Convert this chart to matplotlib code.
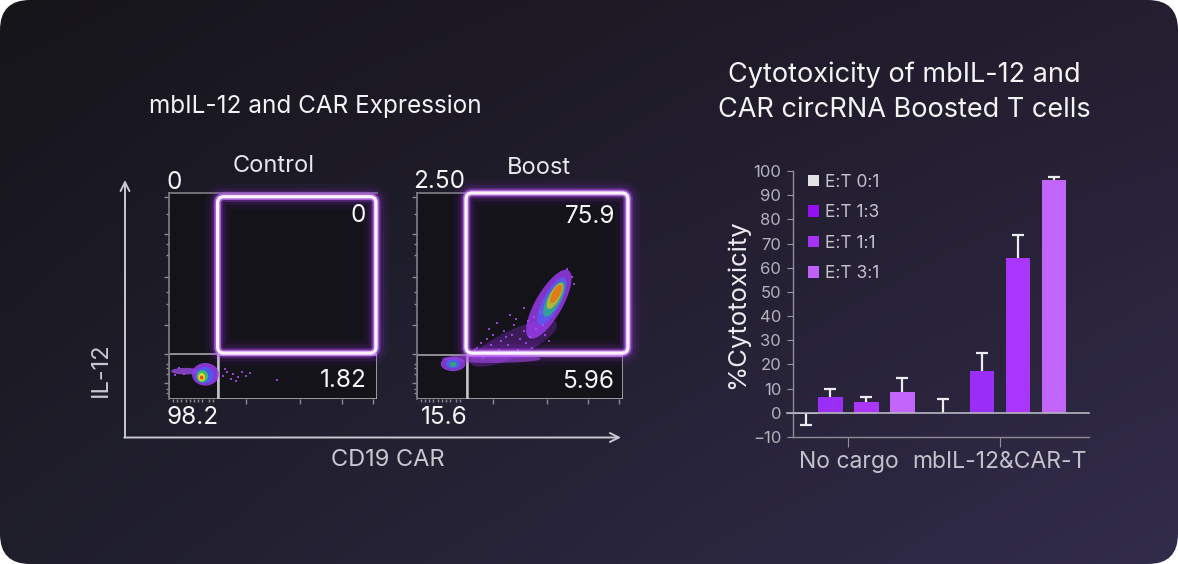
# flow cytometry gates + cytotoxicity bars, dark card layout
import numpy as np
import matplotlib
matplotlib.use('Agg')
from matplotlib import pyplot as plt
from matplotlib import colors as mcolors
from matplotlib.patches import FancyBboxPatch, Ellipse, Rectangle, Patch

plt.rcParams['font.family'] = ['Inter', 'DejaVu Sans']

# --- data ---
groups = ['No cargo', 'mbIL-12&CAR-T']
ratios = ['E:T 0:1', 'E:T 1:3', 'E:T 1:1', 'E:T 3:1']
no_cargo = [-0.3, 6.6, 4.4, 8.6]
no_cargo_err = [4.8, 3.1, 2.2, 5.8]
boosted = [0.0, 17.4, 64.0, 96.1]
boosted_err = [5.7, 7.2, 9.7, 1.6]

flow_titles = ['Control', 'Boost']
# quadrant percentages: upper-left, upper-right, lower-right, lower-left
ctrl_pct = ['0', '0', '1.82', '98.2']
boost_pct = ['2.50', '75.9', '5.96', '15.6']

# gate thresholds (scaled 0-100 channel units)
ctrl_gate = [23.4, 22.3, 99.5, 98.2]     # x0, y0, x1, y1
boost_gate = [23.8, 22.3, 102.4, 100.0]
ctrl_quad = [23.6, 21.8]
boost_quad = [24.3, 21.4]

# density populations: x, y, width, height, angle, colour, alpha
ctrl_pops = [
    (8.0, 13.5, 14, 3.2, 0, '#a050f0', 0.75),
    (17.5, 12.0, 13, 11, 0, '#9b3cf0', 0.85),
    (17.0, 11.5, 9, 8, 0, '#4a5cf5', 0.9),
    (16.0, 11.0, 5.5, 6, 0, '#3cc060', 0.95),
    (15.7, 10.6, 3.2, 4.0, 0, '#e8d82a', 1.0),
    (15.7, 10.4, 1.6, 2.0, 0, '#e84a1a', 1.0),
]
ctrl_dots_x = [3, 5, 7, 26, 28, 30, 31, 33, 35, 37, 39, 52, 27, 32]
ctrl_dots_y = [11.5, 15, 12, 11, 13, 9.5, 12, 10.5, 13, 11, 12.5, 9, 14.5, 8.5]

boost_pops = [
    (47.0, 27.0, 46, 13, 25, '#9a30f0', 0.3),
    (36.0, 19.5, 48, 4.0, 0, '#b050f5', 0.55),
    (17.5, 17.0, 12, 7, 0, '#9a40f0', 0.8),
    (17.5, 17.0, 7, 4.5, 0, '#4a60f0', 0.9),
    (17.5, 16.8, 3.5, 2.5, 0, '#30a870', 0.9),
    (64.0, 46.0, 38, 13, 60, '#a03cf5', 0.8),
    (65.5, 47.5, 26, 8.5, 62, '#5a5af0', 0.85),
    (66.5, 48.5, 19, 6.5, 62, '#30a890', 0.9),
    (67.0, 50.0, 14, 5.0, 62, '#b8b830', 0.95),
    (67.5, 51.0, 10, 3.6, 62, '#e07a18', 1.0),
]
boost_dots_x = [28, 30, 31, 33, 34, 36, 37, 38, 40, 41, 42, 44, 45, 46, 47, 49, 50, 51, 52, 53,
                54, 55, 56, 57, 58, 60, 61, 35, 39, 43, 48, 26, 29, 32, 62, 64, 73, 75, 76, 52, 45]
boost_dots_y = [24, 21, 27, 23, 29, 26, 31, 22, 24, 28, 33, 26, 21, 31, 36, 24, 29, 22, 33, 27,
                38, 30, 25, 40, 34, 42, 36, 34, 37, 30, 39, 22, 25, 20, 31, 28, 63, 59, 56, 44, 41]

bar_colors = ['#e2e2e4', '#9a2ef6', '#aa36fb', '#c266fb']
legend_colors = ['#e2e2e4', '#9410f0', '#a434f5', '#c060f8']

# --- figure / background card ---
W, H = 1178, 564
fig = plt.figure(figsize=(W / 100, H / 100), dpi=100, facecolor='white')
bg = fig.add_axes([0, 0, 1, 1])
bg.axis('off')

tl, tr, bl, br = [np.array(mcolors.to_rgb(c)) for c in ('#16151a', '#241e30', '#1f1e2b', '#322c4b')]
u = np.linspace(0, 1, 240)[None, :, None]
v = np.linspace(0, 1, 120)[:, None, None]
grad = (1 - v) * ((1 - u) * tl + u * tr) + v * ((1 - u) * bl + u * br)
im = bg.imshow(grad, extent=(0, W, H, 0), aspect='auto', interpolation='bilinear', zorder=0)
bg.set_xlim(0, W)
bg.set_ylim(H, 0)
card = FancyBboxPatch((0, 0), W, H, boxstyle='round,pad=0,rounding_size=30',
                      transform=bg.transData, facecolor='none', edgecolor='none')
bg.add_patch(card)
im.set_clip_path(card)

txt = '#f4f4f6'
dim = '#c8c8d0'

bg.text(315, 106, 'mbIL-12 and CAR Expression', color=txt, fontsize=17.5, ha='center', va='center')
bg.text(904, 75, 'Cytotoxicity of mbIL-12 and', color=txt, fontsize=19.5, ha='center', va='center')
bg.text(904, 110, 'CAR circRNA Boosted T cells', color=txt, fontsize=19.5, ha='center', va='center')

arrow = dict(arrowstyle='->', color=dim, lw=1.4, mutation_scale=16, shrinkA=0, shrinkB=0)
bg.annotate('', xy=(125, 180), xytext=(125, 437.5), arrowprops=arrow)
bg.annotate('', xy=(621, 437.5), xytext=(124.3, 437.5), arrowprops=arrow)
bg.text(101, 370, 'IL-12', color=dim, fontsize=17, rotation=90, ha='center', va='center')
bg.text(388, 460, 'CD19 CAR', color=dim, fontsize=17, ha='center', va='center')
bg.text(274, 166, flow_titles[0], color='#e8e8ec', fontsize=17, ha='center', va='center')
bg.text(539, 168, flow_titles[1], color='#e8e8ec', fontsize=17, ha='center', va='center')


def draw_flow(ax, gate, quad, pops, dots_x, dots_y, pct, pct_pos):
    ax.set_xlim(0, 100)
    ax.set_ylim(0, 100)
    ax.set_facecolor('#141319')
    for s in ['right', 'bottom']:
        ax.spines[s].set_visible(False)
    for s in ['left', 'top']:
        ax.spines[s].set_color('#7e7e84')
        ax.spines[s].set_linewidth(1.2)
    ax.set_yticks([8, 22, 36, 59, 80, 98])
    ax.set_yticks([3, 5, 12, 15, 17, 46, 52, 70, 75, 90], minor=True)
    ax.set_xticks([37, 63, 83, 98])
    ax.set_xticks([2, 4, 6, 8, 10, 12, 14, 16, 19, 21], minor=True)
    ax.tick_params(which='both', direction='out', color='#8a8a90', width=1,
                   labelleft=False, labelbottom=False, top=False, right=False)
    ax.tick_params(which='major', length=3.5)
    ax.tick_params(which='minor', length=2)

    qx, qy = quad
    ax.add_patch(Rectangle((0, 0), qx, qy, fill=False, ec='#9a9aa0', lw=1.3, zorder=2))
    ax.add_patch(Rectangle((qx, 0), 100 - qx, qy, fill=False, ec='#c4c4c8', lw=1.8, zorder=2))

    for x, y, w, h, ang, c, a in pops:
        ax.add_patch(Ellipse((x, y), w, h, angle=ang, facecolor=c, edgecolor='none', alpha=a, zorder=3))
    ax.scatter(dots_x, dots_y, s=3, marker='s', color='#a650f2', alpha=0.85, linewidths=0, zorder=3)

    x0, y0, x1, y1 = gate
    for lw, c, a in [(18, '#a030ff', 0.06), (12, '#a838ff', 0.1), (7.5, '#b848ff', 0.25),
                     (4.8, '#d07cff', 0.7), (2.4, '#fbf2ff', 1.0)]:
        ax.add_patch(FancyBboxPatch((x0, y0), x1 - x0, y1 - y0,
                                    boxstyle='round,pad=0,rounding_size=3',
                                    fill=False, ec=c, lw=lw, alpha=a, clip_on=False, zorder=4))

    for label, (px, py) in zip(pct, pct_pos):
        ax.text(px, py, label, color='#f6f6f8', fontsize=17.5, ha='center', va='center',
                clip_on=False, zorder=5)


ctrl_ax = fig.add_axes([169 / W, 1 - 399 / H, 208 / W, 206 / H])
draw_flow(ctrl_ax, ctrl_gate, ctrl_quad, ctrl_pops, ctrl_dots_x, ctrl_dots_y, ctrl_pct,
          [(2.4, 105.0), (90.9, 89.3), (83.7, 9.2), (11.5, -9.2)])

boost_ax = fig.add_axes([417 / W, 1 - 399 / H, 206 / W, 206 / H])
draw_flow(boost_ax, boost_gate, boost_quad, boost_pops, boost_dots_x, boost_dots_y, boost_pct,
          [(10.7, 105.8), (84.0, 88.8), (83.0, 8.3), (13.1, -9.2)])

# --- bar chart ---
ax = fig.add_axes([793 / W, 1 - 437 / H, 296 / W, 266 / H])
ax.set_facecolor('none')

centers = [0, 4.2]
offsets = [[-1.17, -0.5, 0.5, 1.5], [-1.57, -0.5, 0.5, 1.5]]
bar_w = 0.67
err_kw = dict(fmt='none', ecolor='#ecebf0', elinewidth=1.6, capsize=4.3, capthick=1.6, zorder=2)

for gi, (vals, errs) in enumerate([(no_cargo, no_cargo_err), (boosted, boosted_err)]):
    xs = [centers[gi] + o for o in offsets[gi]]
    ax.bar(xs, vals, width=bar_w, color=bar_colors, zorder=3)
    for x, val, e in zip(xs, vals, errs):
        if val >= 0:
            _, caps, _ = ax.errorbar([x], [val], yerr=[[0], [e]], **err_kw)
            caps[0].set_visible(False)
        else:
            _, caps, _ = ax.errorbar([x], [val], yerr=[[e], [0]], **err_kw)
            caps[1].set_visible(False)

ax.set_xlim(-1.54, 6.68)
ax.set_ylim(-10, 100)
ax.set_yticks(range(-10, 101, 10))
ax.set_xticks(centers, groups)
ax.axhline(0, xmin=-0.02, xmax=1, color='#b8b6c0', lw=1.2, clip_on=False, zorder=4)

for s in ['top', 'right']:
    ax.spines[s].set_visible(False)
for s in ['left', 'bottom']:
    ax.spines[s].set_color('#8e8c96')
    ax.spines[s].set_linewidth(1.0)
ax.tick_params(axis='y', colors='#9a98a2', labelcolor='#b4b2bc', labelsize=12, length=4.5, pad=4)
ax.tick_params(axis='x', colors='#8e8c96', labelcolor='#c4c2cc', labelsize=16.5, length=7, pad=3)
ax.set_ylabel('%Cytotoxicity', color='#ecebf0', fontsize=18.5, labelpad=3)

handles = [Patch(facecolor=c, edgecolor='none') for c in legend_colors]
ax.legend(handles, ratios, loc='upper left', bbox_to_anchor=(0.05, 0.99), frameon=False,
          fontsize=12.5, labelcolor='#c4c2cc', handlelength=0.65, handleheight=0.65,
          handletextpad=0.35, labelspacing=0.78, borderpad=0, borderaxespad=0)

fig.savefig('out.png', dpi=100, facecolor='white')
